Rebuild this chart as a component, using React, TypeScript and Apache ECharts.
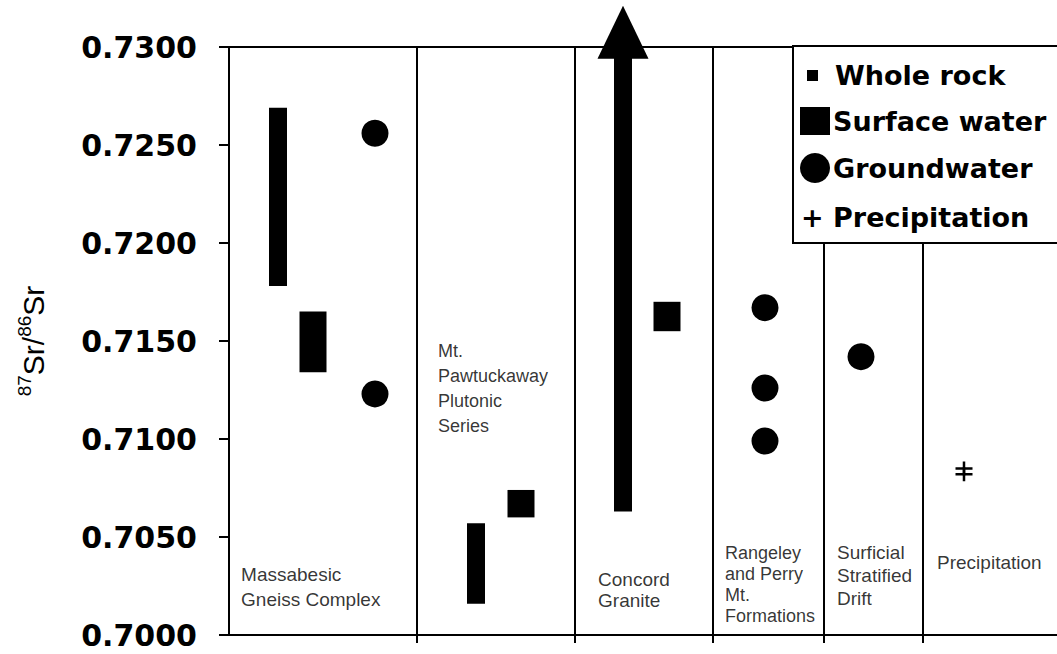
import React, { useEffect, useRef } from "react";
import * as echarts from "echarts";

// ---- categories (geologic units / columns) ----
const unitNames = [
  "Massabesic\nGneiss Complex",
  "Mt.\nPawtuckaway\nPlutonic\nSeries",
  "Concord\nGranite",
  "Rangeley\nand Perry\nMt.\nFormations",
  "Surficial\nStratified\nDrift",
  "Precipitation",
];

// ---- y-axis ticks ----
const yMin = 0.7;
const yMax = 0.73;
const yStep = 0.005;

// ---- Whole rock ranges (87Sr/86Sr) ----
const wholeRockUnit = [0, 1, 2];
const wholeRockLow = [0.7178, 0.7016, 0.7063];
const wholeRockHigh = [0.7269, 0.7057, 0.7321];
const wholeRockOpenTop = [0, 0, 1]; // arrow: continues above the axis

// ---- Surface water ranges ----
const surfaceUnit = [0, 1, 2];
const surfaceLow = [0.7134, 0.706, 0.7155];
const surfaceHigh = [0.7165, 0.7074, 0.717];

// ---- Groundwater ----
const groundUnit = [0, 0, 3, 3, 3, 4];
const groundValue = [0.7256, 0.7123, 0.7167, 0.7126, 0.7099, 0.7142];

// ---- Precipitation ----
const precipUnit = [5, 5];
const precipValue = [0.7085, 0.7082];

// ---- layout (strip position along the horizontal axis) ----
const stripMax = 828;
const columnEdges = [188, 346, 484, 595, 694];
const wholeRockX = [49, 247, 394];
const surfaceX = [84, 292, 438];
const groundX = [146, 146, 536, 536, 536, 632];
const precipX = [735, 735];
const unitLabelX = [12, 209, 369, 496, 608, 708];
const unitLabelY = [0.70245, 0.7126, 0.7023, 0.7026, 0.70306, 0.70372];
const unitLabelStyle = [
  { fontSize: 19, lineHeight: 25 },
  { fontSize: 18, lineHeight: 25 },
  { fontSize: 19, lineHeight: 21 },
  { fontSize: 18, lineHeight: 21 },
  { fontSize: 19, lineHeight: 23 },
  { fontSize: 19, lineHeight: 23 },
];

function rangeRenderer(width: number) {
  return (params: any, api: any) => {
    const x = api.value(0);
    const lo = api.value(1);
    const hi = api.value(2);
    const open = api.value(3);
    const pLo = api.coord([x, lo]);
    const pHi = api.coord([x, hi]);
    const cx = pLo[0];
    if (!open) {
      return {
        type: "rect",
        shape: { x: cx - width / 2, y: pHi[1], width, height: pLo[1] - pHi[1] },
        style: { fill: "#000" },
      };
    }
    const headH = 53;
    const headW = 51;
    return {
      type: "group",
      children: [
        {
          type: "rect",
          shape: {
            x: cx - width / 2,
            y: pHi[1] + headH - 1,
            width,
            height: pLo[1] - pHi[1] - headH + 1,
          },
          style: { fill: "#000" },
        },
        {
          type: "polygon",
          shape: {
            points: [
              [cx, pHi[1]],
              [cx - headW / 2, pHi[1] + headH],
              [cx + headW / 2, pHi[1] + headH],
            ],
          },
          style: { fill: "#000" },
        },
      ],
    };
  };
}

export default function App() {
  const ref = useRef<HTMLDivElement>(null);
  useEffect(() => {
    if (!ref.current) return;
    const chart = echarts.init(ref.current, null, { renderer: "svg" });
    const tickFont = "'DejaVu Sans', Verdana, sans-serif";
    const labelFont = "'Liberation Sans', Arial, sans-serif";

    const wholeRockData = wholeRockUnit.map((u, i) => [
      wholeRockX[i],
      wholeRockLow[i],
      wholeRockHigh[i],
      wholeRockOpenTop[i],
      u,
    ]);
    const surfaceData = surfaceUnit.map((u, i) => [
      surfaceX[i],
      surfaceLow[i],
      surfaceHigh[i],
      0,
      u,
    ]);
    const groundData = groundUnit.map((u, i) => [groundX[i], groundValue[i], u]);
    const precipData = precipUnit.map((u, i) => [precipX[i], precipValue[i], u]);
    const labelData = unitNames.map((n, i) => ({
      value: [unitLabelX[i], unitLabelY[i]],
      name: n,
      label: {
        show: true,
        position: "right",
        distance: 0,
        formatter: n,
        color: "#000",
        fontFamily: labelFont,
        fontSize: unitLabelStyle[i].fontSize,
        lineHeight: unitLabelStyle[i].lineHeight,
        align: "left",
      },
    }));

    const legendLeft = 793;
    const legendTop = 46;
    const legendFont = `bold 27px ${tickFont}`;

    chart.setOption({
      animation: false,
      backgroundColor: "#fff",
      grid: { left: 229, top: 47, right: 0, bottom: 19 },
      xAxis: [
        {
          type: "value",
          min: 0,
          max: stripMax,
          position: "bottom",
          axisLine: { show: true, lineStyle: { color: "#000", width: 2 } },
          axisTick: {
            show: true,
            customValues: columnEdges,
            length: 8,
            lineStyle: { color: "#000", width: 2 },
          },
          axisLabel: { show: false },
          splitLine: { show: false },
        },
        {
          type: "value",
          min: 0,
          max: stripMax,
          position: "top",
          axisLine: { show: true, lineStyle: { color: "#000", width: 2 } },
          axisTick: { show: false },
          axisLabel: { show: false },
          splitLine: { show: false },
        },
      ],
      yAxis: {
        type: "value",
        min: yMin,
        max: yMax,
        interval: yStep,
        axisLine: { show: true, lineStyle: { color: "#000", width: 2 } },
        axisTick: { show: true, length: 10, lineStyle: { color: "#000", width: 2 } },
        axisLabel: {
          formatter: (v: number) => v.toFixed(4),
          fontFamily: tickFont,
          fontWeight: "bold",
          fontSize: 30,
          color: "#000",
          margin: 32,
        },
        splitLine: { show: false },
        name: "{sup|87}{big|Sr/}{sup|86}{big|Sr}",
        nameLocation: "middle",
        nameRotate: 90,
        nameGap: 178,
        nameTextStyle: {
          rich: {
            big: { fontFamily: labelFont, fontSize: 30, color: "#000" },
            sup: {
              fontFamily: labelFont,
              fontSize: 19,
              color: "#000",
              padding: [0, 0, 17, 0],
            },
          },
        },
      },
      series: [
        {
          type: "custom",
          name: "Whole rock",
          renderItem: rangeRenderer(18),
          encode: { x: 0, y: [1, 2] },
          data: wholeRockData,
          clip: false,
          silent: true,
          markLine: {
            silent: true,
            symbol: "none",
            label: { show: false },
            lineStyle: { color: "#000", width: 2, type: "solid" },
            data: columnEdges.map((x) => ({ xAxis: x })),
          },
        },
        {
          type: "custom",
          name: "Surface water",
          renderItem: rangeRenderer(27),
          encode: { x: 0, y: [1, 2] },
          data: surfaceData,
          silent: true,
        },
        {
          type: "scatter",
          name: "Groundwater",
          symbol: "circle",
          symbolSize: 27,
          itemStyle: { color: "#000", opacity: 1 },
          data: groundData,
          silent: true,
        },
        {
          type: "scatter",
          name: "Precipitation",
          symbol: "path://M7.25,0 H9.75 V14 H7.25 Z M0,5.75 H17 V8.25 H0 Z",
          symbolSize: [17, 14],
          itemStyle: { color: "#000", opacity: 1 },
          data: precipData,
          silent: true,
        },
        {
          type: "scatter",
          name: "unit labels",
          symbol: "circle",
          symbolSize: 0.1,
          itemStyle: { color: "rgba(0,0,0,0)" },
          data: labelData,
          silent: true,
        },
      ],
      graphic: [
        {
          type: "rect",
          shape: { x: legendLeft, y: legendTop, width: 300, height: 197 },
          style: { fill: "#fff", stroke: "#000", lineWidth: 2 },
          z: 100,
        },
        {
          type: "rect",
          shape: { x: 807, y: 70, width: 11, height: 11 },
          style: { fill: "#000" },
          z: 101,
        },
        {
          type: "text",
          x: 835,
          y: 75,
          style: { text: "Whole rock", font: legendFont, fill: "#000", textVerticalAlign: "middle" },
          z: 101,
        },
        {
          type: "rect",
          shape: { x: 800, y: 107, width: 30, height: 28 },
          style: { fill: "#000" },
          z: 101,
        },
        {
          type: "text",
          x: 833,
          y: 121,
          style: { text: "Surface water", font: legendFont, fill: "#000", textVerticalAlign: "middle" },
          z: 101,
        },
        {
          type: "circle",
          shape: { cx: 815, cy: 168, r: 15 },
          style: { fill: "#000" },
          z: 101,
        },
        {
          type: "text",
          x: 833,
          y: 168,
          style: { text: "Groundwater", font: legendFont, fill: "#000", textVerticalAlign: "middle" },
          z: 101,
        },
        {
          type: "text",
          x: 801,
          y: 217,
          style: { text: "+ Precipitation", font: legendFont, fill: "#000", textVerticalAlign: "middle" },
          z: 101,
        },
      ],
    });
    return () => chart.dispose();
  }, []);
  return (
    <div
      ref={ref}
      style={{ position: "fixed", left: 0, top: 0, width: 1057, height: 654, background: "#fff" }}
    />
  );
}
